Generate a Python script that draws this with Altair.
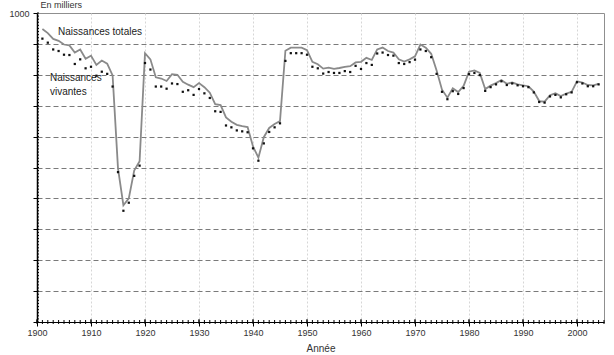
import altair as alt
import pandas as pd

years = list(range(1901, 2005))
totales = [
    948, 935, 916, 910, 898, 895, 872, 882, 852, 862,
    832, 846, 836, 798, 497, 378, 400, 490, 520, 870,
    850, 792, 788, 780, 802, 800, 777, 768, 760, 773,
    760, 742, 705, 702, 662, 648, 638, 634, 631, 568,
    532, 598, 628, 641, 650, 878, 888, 888, 888, 880,
    842, 834, 820, 823, 819, 822, 826, 828, 840, 842,
    855, 848, 882, 888, 877, 872, 850, 843, 850, 860,
    898, 888, 868, 814, 752, 726, 756, 744, 764, 810,
    814, 806, 754, 765, 773, 783, 771, 775, 769, 766,
    763, 746, 715, 713, 734, 740, 731, 739, 745, 779,
    775, 767, 766, 771,
]
vivantes = [
    917, 904, 882, 877, 865, 864, 835, 850, 821, 826,
    797, 810, 803, 762, 485, 360, 386, 473, 506, 838,
    817, 762, 762, 755, 772, 770, 745, 750, 735, 754,
    740, 725, 682, 680, 636, 630, 620, 617, 614, 562,
    522, 578, 615, 630, 643, 845, 870, 870, 870, 865,
    826, 821, 804, 809, 806, 806, 812, 809, 829, 819,
    838, 832, 869, 872, 864, 862, 838, 835, 841, 849,
    882, 877, 857, 803, 745, 721, 747, 738, 757, 802,
    806, 799, 748, 760, 769, 779, 767, 772, 766, 763,
    760, 743, 712, 710, 730, 735, 727, 737, 743, 776,
    772, 763, 763, 769,
]
decades = list(range(1900, 2001, 10))
y_major = list(range(0, 1001, 100))
y_minor = list(range(0, 1001, 10))
x_minor = list(range(1900, 2006))
ann_text = ["Naissances totales", "Naissances", "vivantes"]
ann_year = [1903.9, 1902.4, 1902.4]
ann_val = [940, 790, 745]

df = pd.DataFrame({"annee": years, "totales": totales, "vivantes": vivantes})
df_ymin = pd.DataFrame({"annee": [1900] * len(y_minor), "totales": y_minor})
df_xmin = pd.DataFrame({"annee": x_minor})
df_dec = pd.DataFrame({"annee": decades})
df_ann = pd.DataFrame({"annee": ann_year, "totales": ann_val, "texte": ann_text})

W, H = 567, 309
FONT = "Liberation Sans"
xs = alt.Scale(domain=[1900, 2005], nice=False, zero=False)
ys = alt.Scale(domain=[0, 1000], nice=False)

x_axis = alt.Axis(
    values=decades, format="d", title="Année", grid=True,
    gridColor="#d6d6d6", gridDash=[2, 2], gridWidth=1,
    domainColor="#000000", domainWidth=1, tickColor="#000000", tickSize=4,
    labelFontSize=9, labelColor="#333333", labelFont=FONT, labelPadding=2,
    labelFlush=False, labelOverlap=False,
    titleFont=FONT, titleFontSize=10, titleFontWeight="normal",
    titleColor="#333333", titlePadding=6,
)
y_axis = alt.Axis(
    values=y_major, labelExpr="datum.value == 1000 ? '1000' : ''",
    title="En milliers", titleAngle=0, titleAlign="left", titleBaseline="bottom",
    titleX=3, titleY=-4, titleFont=FONT, titleFontSize=9,
    titleFontWeight="normal", titleColor="#333333",
    grid=True, gridColor="#7a7a7a", gridDash=[5, 3], gridWidth=1,
    gridOpacity={"condition": {"test": "datum.value == 1000 || datum.value == 0", "value": 0}, "value": 1},
    domainColor="#000000", domainWidth=1.5, tickColor="#000000", tickSize=4,
    labelFontSize=9, labelColor="#333333", labelFont=FONT, labelPadding=4,
    labelFlush=False, labelOverlap=False,
)

X = alt.X("annee:Q", scale=xs, axis=x_axis)

line = alt.Chart(df).mark_line(color="#8a8a8a", strokeWidth=1.8).encode(
    x=X, y=alt.Y("totales:Q", scale=ys, axis=y_axis),
)
dots = alt.Chart(df).mark_square(size=5, color="#111111", opacity=1).encode(
    x=X, y=alt.Y("vivantes:Q", scale=ys, axis=y_axis),
)
yminor = alt.Chart(df_ymin).mark_rule(color="#000000", strokeWidth=1).encode(
    y=alt.Y("totales:Q", scale=ys, axis=y_axis),
    x=alt.value(0), x2=alt.value(2),
)
xminor = alt.Chart(df_xmin).mark_rule(color="#000000", strokeWidth=1).encode(
    x=X, y=alt.value(H - 2), y2=alt.value(H + 2),
)
xdec = alt.Chart(df_dec).mark_rule(color="#000000", strokeWidth=1).encode(
    x=X, y=alt.value(H - 3), y2=alt.value(H),
)
ann = alt.Chart(df_ann).mark_text(
    align="left", baseline="middle", fontSize=10, font=FONT, color="#222222"
).encode(
    x=X, y=alt.Y("totales:Q", scale=ys, axis=y_axis),
    text="texte:N",
)

chart = alt.layer(line, dots, yminor, xminor, xdec, ann).properties(
    width=W, height=H,
    padding={"left": 37, "top": 13, "right": 10, "bottom": 33},
    autosize=alt.AutoSizeParams(type="none"),
    background="#ffffff",
).configure_view(stroke="#8f8f8f", strokeWidth=1)

chart.save("out.html", embed_options={"renderer": "svg", "actions": False})
